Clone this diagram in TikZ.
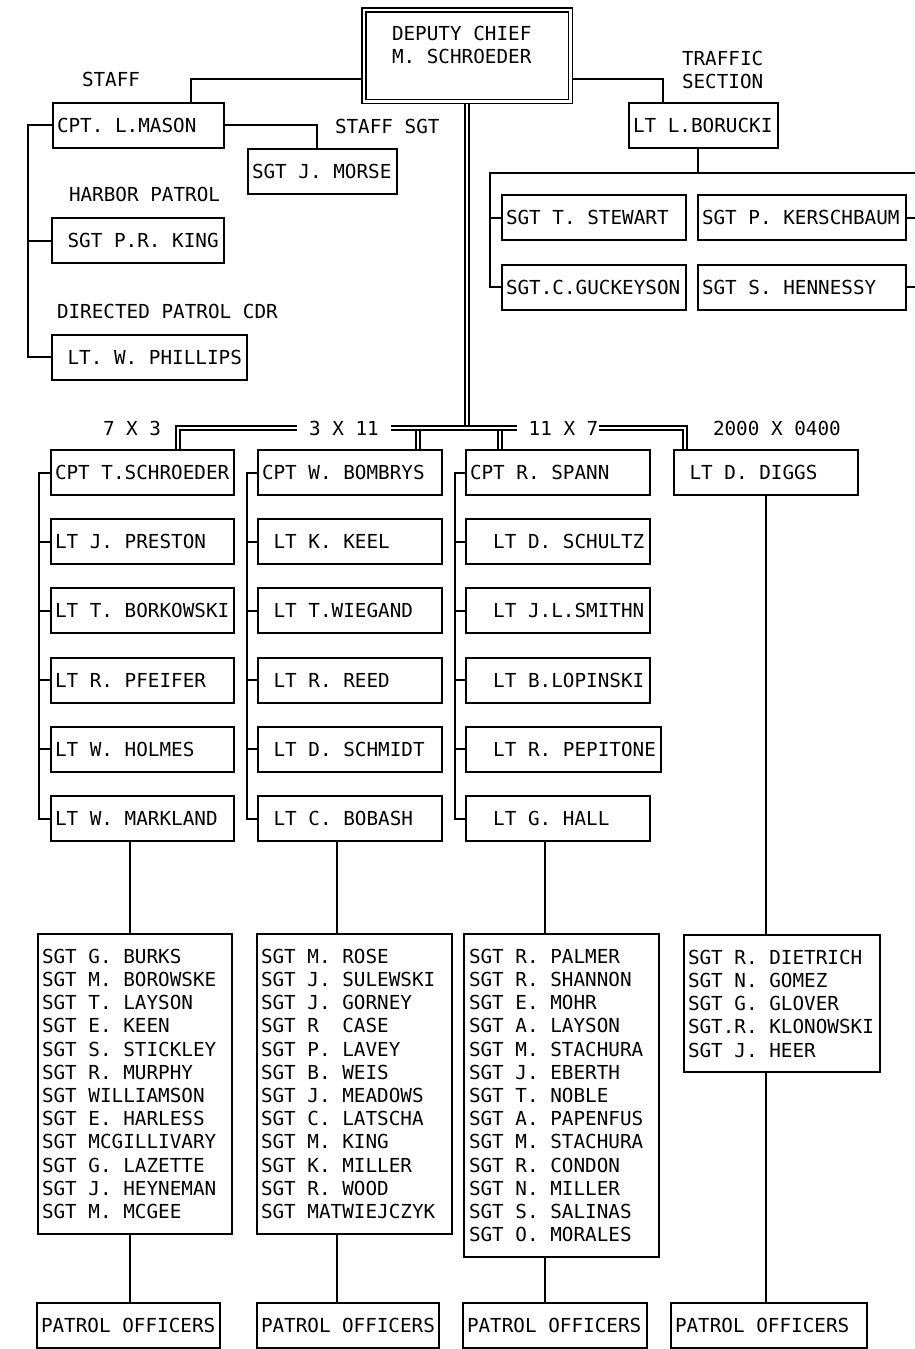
\documentclass[tikz,border=0pt]{standalone}
\usepackage{fontspec}
\usepackage{tikz}
\newfontfamily\plotfont{DejaVu Sans Mono}
\newcommand\plotter{\plotfont\fontsize{19.3pt}{23.2pt}\selectfont\frenchspacing}

\begin{document}
\begin{tikzpicture}[x=1pt, y=-1pt, line width=2pt,
    unit/.style={draw, anchor=west, inner xsep=4pt, inner ysep=15.5pt, text height=14pt, text depth=0pt, font=\plotter},
    post/.style={unit, execute at begin node={\hbox to #1\bgroup}, execute at end node={\hfil\egroup}},
    roster/.style={draw, anchor=north west, align=flush left, inner xsep=4pt, inner ysep=15pt, font=\plotter},
    head/.style={draw, double, double distance=2.5pt, line width=1.5pt, outer sep=2.75pt, anchor=north west, align=flush left, text width=150pt, inner xsep=28.25pt, inner ysep=16.25pt, text height=14pt, text depth=45pt, font=\plotter},
    tag/.style={anchor=west, inner sep=0pt, text height=14pt, text depth=0pt, font=\plotter},
    hours/.style={tag, anchor=center, inner xsep=11pt},
    bus/.style={double, double distance=2.5pt, line width=1.5pt}]
    \path[use as bounding box, fill=white] (0,0) rectangle (915,1349);

    \node (chief) [head] at (361,7) {DEPUTY CHIEF\\M. SCHROEDER};
    \node (staff) [tag] at (81,79) {STAFF};
    \node (traffic) [font=\plotter, inner sep=0pt, anchor=north west, align=flush left] at (681,50) {TRAFFIC\\SECTION};
    \node (mason) [post=163pt] at (52,125) {CPT. L.MASON};
    \node (staffsgt) [tag] at (334,126) {STAFF SGT};
    \node (morse) [post=141pt] at (247,171.5) {SGT J. MORSE};
    \node (harbor) [tag] at (68,194) {HARBOR PATROL};
    \node (king) [post=164pt] at (51,240.5) {~SGT P.R. KING};
    \node (directed) [tag] at (56,311) {DIRECTED PATROL CDR};
    \node (phillips) [post=187pt] at (51,357) {~LT. W. PHILLIPS};
    \node (borucki) [post=141pt] at (628,125) {LT L.BORUCKI};
    \node (stewart) [post=176pt] at (501,217.5) {SGT T. STEWART};
    \node (kersch) [post=200pt] at (697,217.5) {SGT P. KERSCHBAUM};
    \node (guck) [post=176pt] at (501,287) {SGT.C.GUCKEYSON};
    \node (henn) [post=200pt] at (697,287) {SGT S. HENNESSY};

    \node (shift1) [tag] at (102,428) {7 X 3};
    \node (shift2) [hours] at (344,428) {3 X 11};
    \node (shift3) [hours] at (563.5,428) {11 X 7};
    \node (shift4) [tag] at (712,428) {2000 X 0400};

    \node (schroeder) [post=175pt] at (50,472.5) {CPT T.SCHROEDER};
    \node (preston) [post=175pt] at (50,541.7) {LT J. PRESTON};
    \node (borkowski) [post=175pt] at (50,610.9) {LT T. BORKOWSKI};
    \node (pfeifer) [post=175pt] at (50,680.1) {LT R. PFEIFER};
    \node (holmes) [post=175pt] at (50,749.3) {LT W. HOLMES};
    \node (markland) [post=175pt] at (50,818.5) {LT W. MARKLAND};

    \node (bombrys) [post=176pt] at (257,472.5) {CPT W. BOMBRYS};
    \node (keel) [post=176pt] at (257,541.7) {~LT K. KEEL};
    \node (wiegand) [post=176pt] at (257,610.9) {~LT T.WIEGAND};
    \node (reed) [post=176pt] at (257,680.1) {~LT R. REED};
    \node (schmidt) [post=176pt] at (257,749.3) {~LT D. SCHMIDT};
    \node (bobash) [post=176pt] at (257,818.5) {~LT C. BOBASH};

    \node (spann) [post=176pt] at (465,472.5) {CPT R. SPANN};
    \node (schultz) [post=176pt] at (465,541.7) {~~LT D. SCHULTZ};
    \node (smithn) [post=176pt] at (465,610.9) {~~LT J.L.SMITHN};
    \node (lopinski) [post=176pt] at (465,680.1) {~~LT B.LOPINSKI};
    \node (pepitone) [post=187pt] at (465,749.3) {~~LT R. PEPITONE};
    \node (hall) [post=176pt] at (465,818.5) {~~LT G. HALL};

    \node (diggs) [post=176pt] at (673,472.5) {~LT D. DIGGS};

    \node (sgt1) [roster, text width=186pt] at (37,933) {SGT G. BURKS\\SGT M. BOROWSKE\\SGT T. LAYSON\\SGT E. KEEN\\SGT S. STICKLEY\\SGT R. MURPHY\\SGT WILLIAMSON\\SGT E. HARLESS\\SGT MCGILLIVARY\\SGT G. LAZETTE\\SGT J. HEYNEMAN\\SGT M. MCGEE};
    \node (sgt2) [roster, text width=187pt] at (256,933) {SGT M. ROSE\\SGT J. SULEWSKI\\SGT J. GORNEY\\SGT R~~CASE\\SGT P. LAVEY\\SGT B. WEIS\\SGT J. MEADOWS\\SGT C. LATSCHA\\SGT M. KING\\SGT K. MILLER\\SGT R. WOOD\\SGT MATWIEJCZYK};
    \node (sgt3) [roster, text width=185pt, inner xsep=5pt] at (463,933) {SGT R. PALMER\\SGT R. SHANNON\\SGT E. MOHR\\SGT A. LAYSON\\SGT M. STACHURA\\SGT J. EBERTH\\SGT T. NOBLE\\SGT A. PAPENFUS\\SGT M. STACHURA\\SGT R. CONDON\\SGT N. MILLER\\SGT S. SALINAS\\SGT O. MORALES};
    \node (sgt4) [roster, text width=188pt] at (683,934) {SGT R. DIETRICH\\SGT N. GOMEZ\\SGT G. GLOVER\\SGT.R. KLONOWSKI\\SGT J. HEER};

    \node (po1) [post=175pt] at (36,1325) {PATROL OFFICERS};
    \node (po2) [post=174pt] at (256,1325) {PATROL OFFICERS};
    \node (po3) [post=176pt] at (462,1325) {PATROL OFFICERS};
    \node (po4) [post=188pt] at (670,1325) {PATROL OFFICERS};

    \draw ([yshift=-23.5pt]chief.west) -| ([xshift=52.5pt]mason.north);
    \draw ([yshift=-23.5pt]chief.east) -| ([xshift=-40.5pt]borucki.north);
    \draw (mason.east) -| ([xshift=-5.5pt]morse.north);
    \draw (mason.west) -- ++(-24pt,0) |- (phillips.west);
    \draw (king.west) -- ++(-23pt,0);

    % Traffic section
    \draw ([xshift=-5.5pt]borucki.south) -- ++(0,-24pt) coordinate (tjoin);
    \draw (guck.west) -- ++(-11pt,0) |- (tjoin) -| ([xshift=12pt]henn.east) -- (henn.east);
    \draw (stewart.west) -- ++(-11pt,0);
    \draw (kersch.east) -- ++(12pt,0);

    \draw (schroeder.west) -- ++(-11pt,0) |- (markland.west);
    \draw (preston.west) -- ++(-11pt,0);
    \draw (borkowski.west) -- ++(-11pt,0);
    \draw (pfeifer.west) -- ++(-11pt,0);
    \draw (holmes.west) -- ++(-11pt,0);

    \draw (bombrys.west) -- ++(-10pt,0) |- (bobash.west);
    \draw (keel.west) -- ++(-10pt,0);
    \draw (wiegand.west) -- ++(-10pt,0);
    \draw (reed.west) -- ++(-10pt,0);
    \draw (schmidt.west) -- ++(-10pt,0);

    \draw (spann.west) -- ++(-10pt,0) |- (hall.west);
    \draw (schultz.west) -- ++(-10pt,0);
    \draw (smithn.west) -- ++(-10pt,0);
    \draw (lopinski.west) -- ++(-10pt,0);
    \draw (pepitone.west) -- ++(-10pt,0);

    \draw ([xshift=-12.5pt]markland.south) coordinate (a1) -- (a1 |- sgt1.north);
    \draw (a1 |- sgt1.south) -- (a1 |- po1.north);
    \draw ([xshift=-13pt]bobash.south) coordinate (a2) -- (a2 |- sgt2.north);
    \draw (a2 |- sgt2.south) -- (a2 |- po2.north);
    \draw ([xshift=-13pt]hall.south) coordinate (a3) -- (a3 |- sgt3.north);
    \draw (a3 |- sgt3.south) -- (a3 |- po3.north);
    \draw (diggs.south) -- (diggs.south |- sgt4.north);
    \draw (diggs.south |- sgt4.south) -- (diggs.south |- po4.north);

    % Shift bus
    \draw[bus] (chief.south) -- (chief.south |- shift2.east);
    \draw[bus] ([xshift=68pt]bombrys.north) -- ([xshift=68pt]bombrys.north |- shift2.east);
    \draw[bus] ([xshift=-58pt]spann.north) -- ([xshift=-58pt]spann.north |- shift3.west);
    \draw[bus] ([xshift=35.5pt]schroeder.north) |- (shift2.west);
    \draw[bus] (shift2.east) -- (shift3.west);
    \draw[bus] ([xshift=-11pt]shift3.east) -| ([xshift=-81pt]diggs.north);
\end{tikzpicture}
\end{document}
